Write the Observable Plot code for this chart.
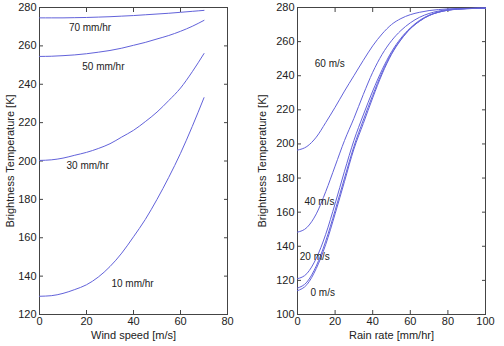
<!DOCTYPE html>
<html><head><meta charset="utf-8">
<script src="https://cdn.jsdelivr.net/npm/d3@7"></script>
<script src="https://cdn.jsdelivr.net/npm/@observablehq/plot@0.6"></script>
<style>
html,body{margin:0;padding:0;background:#fff;}
#wrap{position:relative;width:504px;height:346px;}
#left,#right{position:absolute;top:0;}
#left{left:0;} #right{left:252px;}
</style>
</head><body>
<div id="wrap"><div id="left"></div><div id="right"></div></div>
<script>
// ---- Left panel: Tb vs wind speed, one curve per rain rate ----
const windSpeed = [0,5,10,15,20,25,30,35,40,45,50,55,60,65,70];
const tbRain10 = [129.5,129.8,131,133,135.5,139.5,145,152,160.5,169.5,180,191.5,204,218,233];
const tbRain30 = [200.3,200.6,201.5,203,204.5,206.5,209,212.5,216,220.5,225.5,231.5,238,246.5,256];
const tbRain50 = [254.5,254.6,254.9,255.3,255.9,256.7,257.6,258.8,260.3,261.8,263.6,265.4,267.6,270.2,273.3];
const tbRain70 = [274.6,274.6,274.6,274.7,274.8,275,275.2,275.5,275.8,276.2,276.6,277,277.5,278,278.5];
const rainLabels = ["10 mm/hr","30 mm/hr","50 mm/hr","70 mm/hr"];
const rainLabelX = [30.6,11.5,18.2,12.5];
const rainLabelY = [136,197.7,249.3,269.4];

// ---- Right panel: Tb vs rain rate, one curve per wind speed ----
const rainRate = [0,5,10,15,20,25,30,35,40,45,50,55,60,65,70,75,80,85,90,95,100];
const tbWind0  = [114,117.5,127,141,159,178,197,212,227,241,252.5,261,267.5,272,275.3,277.3,278.5,279.1,279.4,279.5,279.6];
const tbWind10 = [115.5,119,128.5,143,161,180,198.5,214,228.5,242,253,261.3,267.6,272.1,275.3,277.2,278.4,279,279.3,279.5,279.6];
const tbWind20 = [121,124,133,147,165,184,202,217,231,243.5,254,262,268,272.5,275.5,277.3,278.4,279,279.3,279.5,279.6];
const tbWind40 = [148.3,151,159,172,187,202,215,229,242,252.5,260.5,266.5,271,274.3,276.5,277.9,278.8,279.2,279.4,279.5,279.6];
const tbWind60 = [196.4,198.5,204,212.5,221.5,231,240,249,257.5,264.5,270,273.5,275.8,277.2,278.2,278.8,279.2,279.4,279.5,279.6,279.6];
const windLabels = ["0 m/s","20 m/s","40 m/s","60 m/s"];
const windLabelX = [6.9,1.2,3.7,9.2];
const windLabelY = [112.7,134,166.3,247];

const xTicksL = [0,20,40,60,80];
const yTicksL = [120,140,160,180,200,220,240,260,280];
const xTicksR = [0,20,40,60,80,100];
const yTicksR = [100,120,140,160,180,200,220,240,260,280];

const lineColor = "#6262da";
const font = "Liberation Sans, Arial, sans-serif";

function series(xs, ys, key) { return xs.map((x, i) => ({x, y: ys[i], key})); }

const leftData = [
  ...series(windSpeed, tbRain10, "10"),
  ...series(windSpeed, tbRain30, "30"),
  ...series(windSpeed, tbRain50, "50"),
  ...series(windSpeed, tbRain70, "70")
];
const rightData = [
  ...series(rainRate, tbWind0, "0"),
  ...series(rainRate, tbWind10, "10"),
  ...series(rainRate, tbWind20, "20"),
  ...series(rainRate, tbWind40, "40"),
  ...series(rainRate, tbWind60, "60")
];
const leftLabels = rainLabels.map((t, i) => ({t, x: rainLabelX[i], y: rainLabelY[i]}));
const rightLabels = windLabels.map((t, i) => ({t, x: windLabelX[i], y: windLabelY[i]}));

function panel({data, labels, xDomain, yDomain, xTicks, yTicks, xLabel, marginLeft, marginRight}) {
  return Plot.plot({
    width: 252, height: 346,
    marginTop: 7, marginBottom: 32, marginLeft, marginRight,
    style: {fontFamily: font, fontSize: "10px", color: "#222", background: "#fff"},
    x: {domain: xDomain},
    y: {domain: yDomain},
    marks: [
      Plot.frame({stroke: "#444", strokeWidth: 1}),
      Plot.axisX({ticks: xTicks, tickSize: 0, tickPadding: 3, label: xLabel, labelAnchor: "center", labelArrow: "none", labelOffset: 24, tickFormat: d => String(d), fontSize: 11}),
      Plot.axisX({ticks: xTicks, anchor: "bottom", tickSize: -4, text: null, label: null, stroke: "#444"}),
      Plot.axisX({ticks: xTicks, anchor: "top", tickSize: -4, text: null, label: null, stroke: "#444"}),
      Plot.axisY({ticks: yTicks, tickSize: 0, tickPadding: 3, label: "Brightness Temperature [K]", labelAnchor: "center", labelArrow: "none", labelOffset: marginLeft - 6, tickFormat: d => String(d), fontSize: 11}),
      Plot.axisY({ticks: yTicks, anchor: "left", tickSize: -4, text: null, label: null, stroke: "#444"}),
      Plot.axisY({ticks: yTicks, anchor: "right", tickSize: -4, text: null, label: null, stroke: "#444"}),
      Plot.line(data, {x: "x", y: "y", z: "key", stroke: lineColor, strokeWidth: 1, curve: "monotone-x"}),
      Plot.text(labels, {x: "x", y: "y", text: "t", textAnchor: "start", fill: "#222", fontSize: 10})
    ]
  });
}

document.getElementById("left").append(panel({
  data: leftData, labels: leftLabels, xDomain: [0, 80], yDomain: [120, 280],
  xTicks: xTicksL, yTicks: yTicksL, xLabel: "Wind speed [m/s]", marginLeft: 39, marginRight: 25
}));
document.getElementById("right").append(panel({
  data: rightData, labels: rightLabels, xDomain: [0, 100], yDomain: [100, 280],
  xTicks: xTicksR, yTicks: yTicksR, xLabel: "Rain rate [mm/hr]", marginLeft: 45, marginRight: 19
}));
</script>
</body></html>
